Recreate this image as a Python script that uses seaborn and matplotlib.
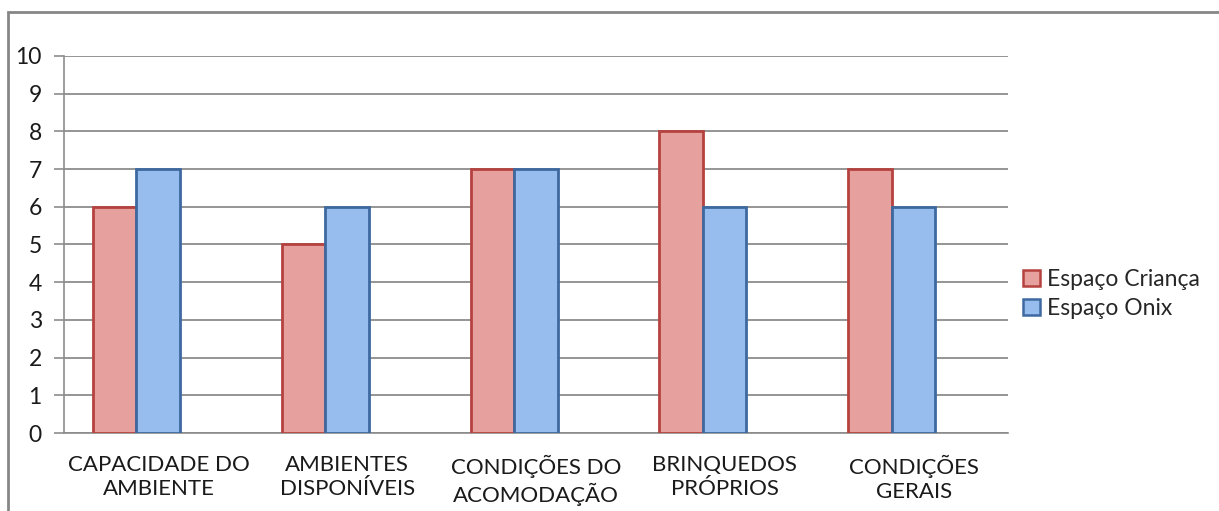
import pandas as pd
import numpy as np
import matplotlib.pyplot as plt
import seaborn as sns
from matplotlib.patches import Rectangle, Patch

categorias = ['CAPACIDADE DO\nAMBIENTE', 'AMBIENTES\nDISPONÍVEIS', 'CONDIÇÕES DO\nACOMODAÇÃO',
              'BRINQUEDOS\nPRÓPRIOS', 'CONDIÇÕES\nGERAIS']
series = ['Espaço Criança', 'Espaço Onix']
crianca = [6, 5, 7, 8, 7]
onix = [7, 6, 7, 6, 6]
y_ticks = list(range(0, 11))

df = pd.DataFrame({
    'categoria': categorias * 2,
    'serie': [series[0]] * 5 + [series[1]] * 5,
    'valor': crianca + onix,
})

sns.set_style('white')
plt.rcParams['font.family'] = ['Lato', 'DejaVu Sans']

cores_face = {'Espaço Criança': '#E6A19F', 'Espaço Onix': '#97BDEE'}
cores_borda = {'Espaço Criança': '#B5423F', 'Espaço Onix': '#3D69A0'}

fig = plt.figure(figsize=(12.19, 5.11), dpi=100)
ax = fig.add_axes([64 / 1219, 1 - 433 / 511, (1008 - 64) / 1219, (433 - 56) / 511])

sns.barplot(data=df, x='categoria', y='valor', hue='serie', order=categorias,
            hue_order=series, palette=cores_face, saturation=1, width=0.46, dodge=True,
            ax=ax, legend=False, zorder=3)

# bordas escuras para imitar o chanfro do Excel
for cont, s in zip(ax.containers, series):
    for barra in cont:
        barra.set_edgecolor(cores_borda[s])
        barra.set_linewidth(2.0)

off = 0.116
ax.set_xlim(-0.5 + off, 4.5 + off)
ax.set_ylim(0, 10)
ax.set_yticks(y_ticks)
ax.yaxis.grid(True, color='#8C8C8C', linewidth=1.3, zorder=0)
ax.set_axisbelow(True)

ax.set_xticks(np.arange(5) + off)
ax.set_xticklabels(categorias, fontsize=16, color='#1a1a1a', linespacing=1.25)
ax.set_xticks(np.arange(6) - 0.5 + off, minor=True)
ax.tick_params(axis='x', which='major', length=0, pad=16)
ax.tick_params(axis='x', which='minor', length=7, width=1.2, color='#8C8C8C', direction='out')
ax.tick_params(axis='y', length=7, width=1.2, color='#8C8C8C', direction='out', labelsize=16.5,
               labelcolor='#1a1a1a', left=True, pad=9)
ax.set_xlabel('')
ax.set_ylabel('')

for lado in ['top', 'right']:
    ax.spines[lado].set_visible(False)
for lado in ['left', 'bottom']:
    ax.spines[lado].set_color('#8C8C8C')
    ax.spines[lado].set_linewidth(1.2)

handles = [Patch(facecolor=cores_face[s], edgecolor=cores_borda[s], linewidth=1.8, label=s) for s in series]
fig.legend(handles=handles, loc='center left', bbox_to_anchor=(1014 / 1219, 1 - 294 / 511),
           frameon=False, fontsize=16.5, handlelength=0.75, handleheight=0.75,
           handletextpad=0.3, labelspacing=0.35, borderaxespad=0)

# moldura do gráfico
fig.patches.append(Rectangle((8 / 1219, -0.05), 1.2, 1 - 12 / 511 + 0.05, transform=fig.transFigure,
                             fill=False, edgecolor='#868686', linewidth=2))

fig.savefig('out.png', dpi=100)
